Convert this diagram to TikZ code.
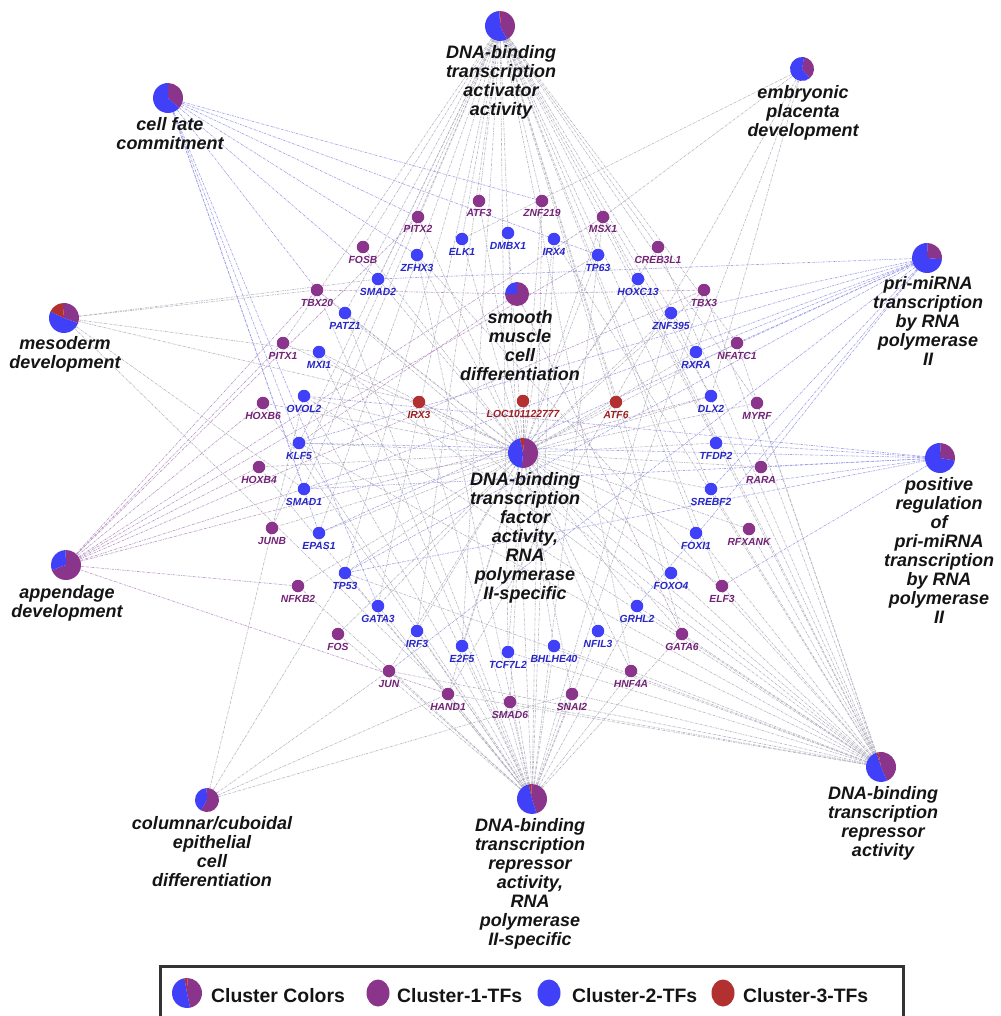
\documentclass[tikz,border=0pt]{standalone}
\usepackage{fontspec}
\setmainfont{Liberation Sans}
\usetikzlibrary{backgrounds,shapes.geometric}
\definecolor{cpur}{RGB}{138,52,140}
\definecolor{cblu}{RGB}{64,64,248}
\definecolor{cred}{RGB}{178,48,48}
\definecolor{tpur}{RGB}{115,35,118}
\definecolor{tblu}{RGB}{38,38,200}
\definecolor{tred}{RGB}{158,30,30}
\definecolor{egray}{RGB}{180,180,194}
\definecolor{eblue}{RGB}{158,158,232}
\definecolor{epur}{RGB}{184,150,196}
\newcommand\gopie[6]{%
  \fill[cpur] (#1,-#2) -- ++(#4:#3pt) arc[start angle=#4, end angle=#5, radius=#3pt] -- cycle;
  \fill[cred] (#1,-#2) -- ++(#5:#3pt) arc[start angle=#5, end angle=#6, radius=#3pt] -- cycle;
  \fill[cblu] (#1,-#2) -- ++(#6:#3pt) arc[start angle=#6, end angle={#4+360}, radius=#3pt] -- cycle;}
\newcommand\goterm[7]{%
  \node[circle, inner sep=0pt, minimum size={#4pt*2}] (#1) at (#2,-#3) {};
  \gopie{#2}{#3}{#4}{#5}{#6}{#7}}
\newcommand\tf[5]{%
  \node[tfdot, fill=c#4] (#1) at (#2,-#3) {};
  \node[tflab, text=t#4] (#1-l) at (#2,{-#3-16}) {#5};}
\tikzset{
  tfdot/.style={circle, inner sep=0pt, minimum size=12.5pt},
  tflab/.style={font=\fontsize{10.3}{12}\selectfont\bfseries\itshape, inner sep=0pt, anchor=base},
  golab/.style={font=\fontsize{18}{19}\selectfont\bfseries\itshape, align=center, inner sep=0pt, anchor=north, text=black!92},
  leglab/.style={font=\fontsize{19.4}{22}\selectfont\bfseries, inner sep=0pt, anchor=base west, text=black!92},
  legdot/.style={ellipse, inner sep=0pt, minimum width=23pt, minimum height=27pt},
  edge/.style={line width=0.6pt, dash pattern=on 2.5pt off 1pt on 0.6pt off 1pt},
}
\begin{document}
\begin{tikzpicture}[x=1pt,y=1pt]
\useasboundingbox (0,0) rectangle (1000,-1016);
% ---------- GO terms ----------
\goterm{gAct}{500}{26}{15}{-62}{85}{92}
\node[golab] (gAct-l) at (501,-45.5) {DNA-binding\\transcription\\activator\\activity};
\goterm{gCell}{168}{98}{15}{-42}{90}{90}
\node[golab] (gCell-l) at (170,-117.5) {cell fate\\commitment};
\goterm{gEmb}{802}{69}{12}{-50}{80}{80}
\node[golab] (gEmb-l) at (803,-85.5) {embryonic\\placenta\\development};
\goterm{gPri}{927}{258}{15}{-5}{88}{88}
\node[golab] (gPri-l) at (928,-276.5) {pri-miRNA\\transcription\\by RNA\\polymerase\\II};
\goterm{gMes}{64}{318}{15}{-20}{95}{155}
\node[golab] (gMes-l) at (65,-336.5) {mesoderm\\development};
\goterm{gSmo}{517}{294}{12}{-180}{90}{90}
\node[golab] (gSmo-l) at (520,-310.5) {smooth\\muscle\\cell\\differentiation};
\goterm{gCtr}{523}{453}{15}{-95}{85}{102}
\node[golab] (gCtr-l) at (525,-472.5) {DNA-binding\\transcription\\factor\\activity,\\RNA\\polymerase\\II-specific};
\goterm{gPos}{940}{458}{15}{-10}{88}{88}
\node[golab] (gPos-l) at (939,-477.5) {positive\\regulation\\of\\pri-miRNA\\transcription\\by RNA\\polymerase\\II};
\goterm{gApp}{66}{565}{15}{-160}{92}{92}
\node[golab] (gApp-l) at (67,-585.5) {appendage\\development};
\goterm{gCol}{207}{800}{12}{-120}{92}{92}
\node[golab] (gCol-l) at (212,-816.5) {columnar/cuboidal\\epithelial\\cell\\differentiation};
\goterm{gRepII}{532}{799}{15}{-72}{93}{103}
\node[golab] (gRepII-l) at (530,-818.5) {DNA-binding\\transcription\\repressor\\activity,\\RNA\\polymerase\\II-specific};
\goterm{gRep}{881}{767}{15}{-67}{100}{108}
\node[golab] (gRep-l) at (883,-786.5) {DNA-binding\\transcription\\repressor\\activity};
% ---------- TFs: cluster 1 ----------
\tf{ATF3}{479}{201}{pur}{ATF3}
\tf{ZNF219}{542}{201}{pur}{ZNF219}
\tf{PITX2}{418}{217}{pur}{PITX2}
\tf{MSX1}{603}{217}{pur}{MSX1}
\tf{FOSB}{363}{247}{pur}{FOSB}
\tf{CREB3L1}{658}{247}{pur}{CREB3L1}
\tf{TBX20}{317}{290}{pur}{TBX20}
\tf{TBX3}{704}{290}{pur}{TBX3}
\tf{PITX1}{283}{343}{pur}{PITX1}
\tf{NFATC1}{737}{343}{pur}{NFATC1}
\tf{HOXB6}{263}{403}{pur}{HOXB6}
\tf{MYRF}{757}{403}{pur}{MYRF}
\tf{HOXB4}{259}{467}{pur}{HOXB4}
\tf{RARA}{761}{467}{pur}{RARA}
\tf{JUNB}{272}{528}{pur}{JUNB}
\tf{RFXANK}{749}{529}{pur}{RFXANK}
\tf{NFKB2}{298}{586}{pur}{NFKB2}
\tf{ELF3}{722}{586}{pur}{ELF3}
\tf{FOS}{338}{634}{pur}{FOS}
\tf{GATA6}{682}{634}{pur}{GATA6}
\tf{JUN}{389}{671}{pur}{JUN}
\tf{HNF4A}{631}{671}{pur}{HNF4A}
\tf{HAND1}{448}{694}{pur}{HAND1}
\tf{SNAI2}{572}{694}{pur}{SNAI2}
\tf{SMAD6}{510}{702}{pur}{SMAD6}
% ---------- cluster 2 ----------
\tf{ELK1}{462}{239}{blu}{ELK1}
\tf{DMBX1}{508}{233}{blu}{DMBX1}
\tf{IRX4}{554}{239}{blu}{IRX4}
\tf{ZFHX3}{417}{255}{blu}{ZFHX3}
\tf{TP63}{598}{255}{blu}{TP63}
\tf{SMAD2}{378}{279}{blu}{SMAD2}
\tf{HOXC13}{638}{279}{blu}{HOXC13}
\tf{PATZ1}{345}{313}{blu}{PATZ1}
\tf{ZNF395}{671}{313}{blu}{ZNF395}
\tf{MXI1}{319}{352}{blu}{MXI1}
\tf{RXRA}{696}{352}{blu}{RXRA}
\tf{OVOL2}{304}{396}{blu}{OVOL2}
\tf{DLX2}{711}{396}{blu}{DLX2}
\tf{KLF5}{299}{443}{blu}{KLF5}
\tf{TFDP2}{716}{443}{blu}{TFDP2}
\tf{SMAD1}{304}{489}{blu}{SMAD1}
\tf{SREBF2}{711}{489}{blu}{SREBF2}
\tf{EPAS1}{319}{533}{blu}{EPAS1}
\tf{FOXI1}{696}{533}{blu}{FOXI1}
\tf{TP53}{345}{573}{blu}{TP53}
\tf{FOXO4}{671}{573}{blu}{FOXO4}
\tf{GATA3}{378}{606}{blu}{GATA3}
\tf{GRHL2}{637}{606}{blu}{GRHL2}
\tf{IRF3}{417}{631}{blu}{IRF3}
\tf{NFIL3}{598}{631}{blu}{NFIL3}
\tf{E2F5}{462}{646}{blu}{E2F5}
\tf{BHLHE40}{554}{646}{blu}{BHLHE40}
\tf{TCF7L2}{508}{652}{blu}{TCF7L2}
% ---------- cluster 3 ----------
\tf{IRX3}{419}{402}{red}{IRX3}
\tf{LOC101122777}{523}{401}{red}{LOC101122777}
\tf{ATF6}{616}{402}{red}{ATF6}
% ---------- edges ----------
\begin{scope}[on background layer]
\fill[white] (0,0) rectangle (1000,-1016);
\foreach \t in {ATF3,ZNF219,PITX2,MSX1,FOSB,CREB3L1,TBX20,TBX3,PITX1,NFATC1,HOXB6,MYRF,HOXB4,RARA,JUNB,RFXANK,NFKB2,ELF3,FOS,GATA6,JUN,HNF4A,HAND1,SNAI2,SMAD6,ELK1,DMBX1,IRX4,ZFHX3,TP63,SMAD2,HOXC13,PATZ1,ZNF395,MXI1,RXRA,OVOL2,DLX2,KLF5,TFDP2,SMAD1,SREBF2,EPAS1,FOXI1,TP53,FOXO4,GATA3,GRHL2,IRF3,NFIL3,E2F5,BHLHE40,TCF7L2,IRX3,LOC101122777,ATF6}
  \draw[edge,egray] (gCtr) -- (\t);
\foreach \t in {ATF3,ZNF219,PITX2,FOSB,CREB3L1,PITX1,NFATC1,MYRF,JUNB,ELF3,GATA6,HNF4A,ELK1,DMBX1,TP63,SMAD2,HOXC13,PATZ1,RXRA,DLX2,KLF5,TFDP2,SMAD1,SREBF2,EPAS1,FOXI1,TP53,FOXO4,GATA3,IRF3,E2F5,TCF7L2,ATF6}
  \draw[edge,egray] (gAct) -- (\t);
\foreach \t in {IRX3,ZNF219,MSX1,TBX20,TBX3,HOXB4,SNAI2,HAND1,JUN,SMAD6,GATA6,FOS,HNF4A,HOXB6,NFKB2,ZFHX3,IRX4,DMBX1,PATZ1,ZNF395,MXI1,OVOL2,KLF5,TP53,GATA3,GRHL2,IRF3,NFIL3,E2F5,BHLHE40,TCF7L2}
  \draw[edge,egray] (gRepII) -- (\t);
\foreach \t in {IRX3,MSX1,TBX20,TBX3,SNAI2,HAND1,JUN,SMAD6,GATA6,HNF4A,ELF3,RFXANK,CREB3L1,MYRF,NFATC1,ZFHX3,IRX4,ZNF395,MXI1,OVOL2,KLF5,TP53,GRHL2,NFIL3,BHLHE40,TCF7L2,FOXO4,FOXI1,SREBF2,HOXC13}
  \draw[edge,egray] (gRep) -- (\t);
\foreach \t in {ZNF219,PITX2,TBX20,SMAD2,ZFHX3,TP63,SMAD1,KLF5,GATA3,EPAS1}
  \draw[edge,eblue] (gCell) -- (\t);
\foreach \t in {MSX1,HAND1,RXRA,DLX2,ELK1}
  \draw[edge,egray] (gEmb) -- (\t);
\foreach \t in {SMAD1,SMAD2,TP53,KLF5,SREBF2,RXRA,ZNF395,EPAS1,GRHL2,NFATC1,RARA,JUN}
  \draw[edge,eblue] (gPri) -- (\t);
\foreach \t in {SMAD1,TP53,KLF5,SREBF2,TFDP2,OVOL2,RARA,ELF3}
  \draw[edge,eblue] (gPos) -- (\t);
\foreach \t in {IRX3,TBX20,HAND1,SMAD2,SMAD1,MXI1}
  \draw[edge,egray] (gMes) -- (\t);
\foreach \t in {TBX20,TBX3,GATA6,KLF5}
  \draw[edge,epur] (gSmo) -- (\t);
\foreach \t in {PITX1,HOXB6,HOXB4,MSX1,TBX3,TBX20,HAND1,NFKB2,PITX2,DLX2,SMAD1,TP63}
  \draw[edge,epur] (gApp) -- (\t);
\foreach \t in {OVOL2,TP53,JUN,HAND1,SNAI2}
  \draw[edge,egray] (gCol) -- (\t);
\end{scope}
% ---------- legend ----------
\draw[line width=3pt, draw=black!80] (160,-966) rectangle (903,-1030);
\goterm{lPie}{187}{993}{15}{-78}{88}{100}
\node[leglab] (l0) at (211,-1002) {Cluster Colors};
\node[legdot, fill=cpur] (l1d) at (378,-993) {};
\node[leglab] (l1) at (397,-1002) {Cluster-1-TFs};
\node[legdot, fill=cblu] (l2d) at (549,-993) {};
\node[leglab] (l2) at (572,-1002) {Cluster-2-TFs};
\node[legdot, fill=cred] (l3d) at (723,-993) {};
\node[leglab] (l3) at (743,-1002) {Cluster-3-TFs};
\end{tikzpicture}
\end{document}
